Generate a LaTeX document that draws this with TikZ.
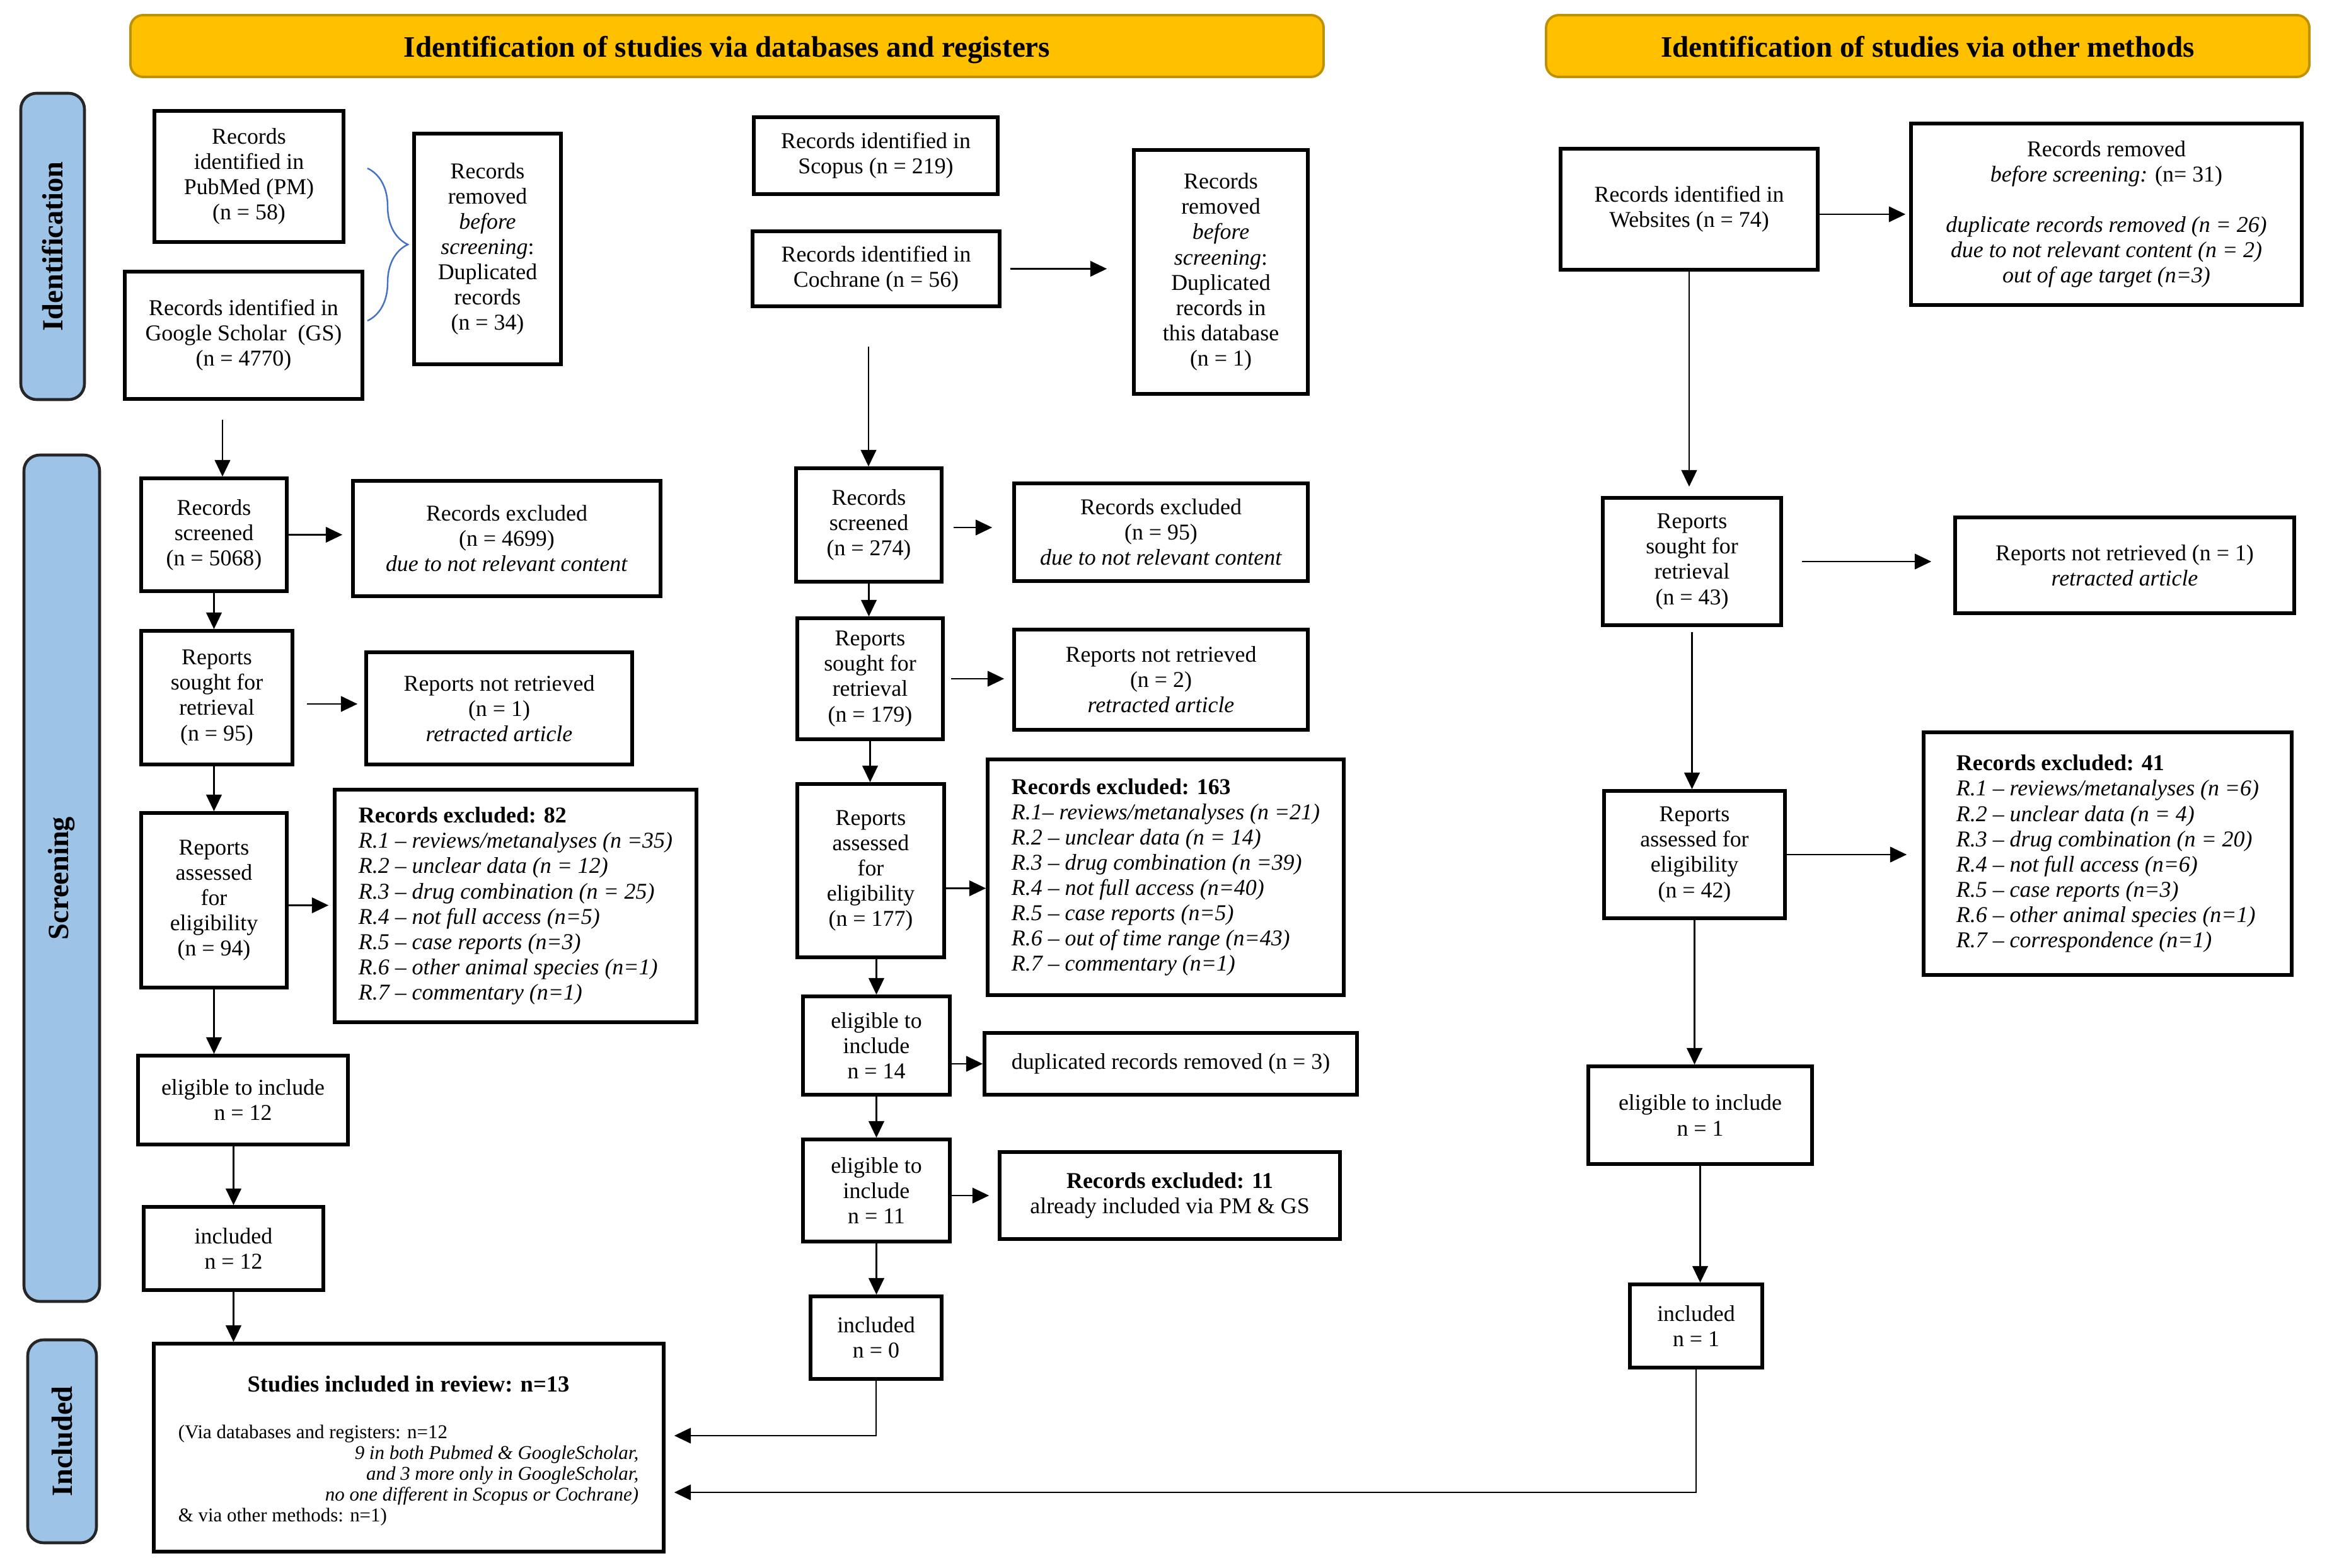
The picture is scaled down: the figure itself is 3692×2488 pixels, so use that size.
\documentclass[tikz,border=0pt]{standalone}
\usepackage{fontspec}
\setmainfont{Liberation Serif}
\usetikzlibrary{arrows.meta, calc, decorations.pathreplacing}
\definecolor{hdrfill}{HTML}{FFC000}
\definecolor{hdrline}{HTML}{BF9000}
\definecolor{phfill}{HTML}{9DC3E6}
\definecolor{bracecol}{HTML}{4472C4}
\newcommand{\bodysize}{\fontsize{10.2}{11.4}\selectfont}
\newcommand{\smallsize}{\fontsize{8.8}{9.4}\selectfont}
\begin{document}
\begin{tikzpicture}[x=0.01cm, y=-0.01cm,
  rect/.style n args={4}{at={({(#1+#3)/2},{(#2+#4)/2})}, minimum width={(#3-#1)*0.01cm}, minimum height={(#4-#2)*0.01cm}},
  box/.style={draw=black, line width=1.6pt, inner sep=0pt, align=center, font=\bodysize},
  lbox/.style={draw=black, line width=1.6pt, inner sep=0pt, align=left, font=\bodysize},
  hdr/.style={draw=hdrline, fill=hdrfill, line width=1.1pt, rounded corners=0.2cm, inner sep=0pt, text height=10pt, text depth=0pt, font=\fontsize{13.4}{16}\selectfont\bfseries},
  phase/.style={draw=black!85, fill=phfill, line width=1.3pt, rounded corners=0.25cm, inner sep=0pt},
  phlabel/.style={rotate=90, font=\fontsize{13.2}{15}\selectfont\bfseries, inner sep=0pt},
  arr/.style={line width=0.8pt, -{Triangle[length=7.5pt,width=7pt]}},
]
\fill[white] (0,0) rectangle (3692,2488);
\useasboundingbox (0,0) rectangle (3692,2488);

% headers
\node[hdr, rect={207}{24}{2100}{122}] (hdrA) {Identification of studies via databases and registers};
\node[hdr, rect={2453}{24}{3664}{122}] (hdrB) {Identification of studies via other methods};

% phase labels
\node[phase, rect={33}{148}{134}{634}] (phId) {};
\node[phlabel] (phIdT) at (phId.center) {Identification};
\node[phase, rect={38}{722}{158}{2065}] (phSc) {};
\node[phlabel] (phScT) at (phSc.center) {Screening};
\node[phase, rect={44}{2126}{153}{2448}] (phIn) {};
\node[phlabel] (phInT) at (phIn.center) {Included};

% ---------- column 1 ----------
\node[box, rect={245}{176}{545}{384}] (pm) {Records\\identified in\\PubMed (PM)\\(n = 58)};
\node[box, rect={198}{431}{575}{633}] (gs) {Records identified in\\Google Scholar~~(GS)\\(n = 4770)};
\node[box, rect={657}{212}{890}{578}] (rem1) {Records\\removed\\\textit{before}\\\textit{screening}:\\Duplicated\\records\\(n = 34)};
\draw[bracecol, line width=0.7pt, decorate, decoration={brace, amplitude=0.64cm}] (583,267) -- (583,509);

\node[box, rect={224}{759}{455}{938}] (scr1) {Records\\screened\\(n = 5068)};
\node[box, rect={560}{763}{1048}{946}] (exc1) {Records excluded\\(n = 4699)\\\textit{due to not relevant content}};
\node[box, rect={224}{1001}{464}{1213}] (sgt1) {Reports\\sought for\\retrieval\\(n = 95)};
\node[box, rect={581}{1035}{1003}{1213}] (nrt1) {Reports not retrieved\\(n = 1)\\\textit{retracted article}};
\node[box, rect={224}{1290}{455}{1567}] (asd1) {Reports\\assessed\\for\\eligibility\\(n = 94)};
\node[lbox, rect={531}{1253}{1105}{1622}] (ex82) {\textbf{Records excluded: 82}\\
\textit{R.1 -- reviews/metanalyses (n =35)}\\
\textit{R.2 -- unclear data (n = 12)}\\
\textit{R.3 -- drug combination (n = 25)}\\
\textit{R.4 -- not full access (n=5)}\\
\textit{R.5 -- case reports (n=3)}\\
\textit{R.6 -- other animal species (n=1)}\\
\textit{R.7 -- commentary (n=1)}};
\node[box, rect={219}{1675}{552}{1816}] (el12) {eligible to include\\n = 12};
\node[box, rect={228}{1915}{513}{2047}] (in12) {included\\n = 12};
\node[box, rect={244}{2132}{1053}{2462}] (stud) {};
\node[font=\fontsize{10.4}{12}\selectfont\bfseries, inner sep=0pt] (studT) at (648,2196) {Studies included in review: n=13};
\node[font=\smallsize, align=center, inner sep=0pt] (studB) at (648,2341) {%
\makebox[7.3cm][l]{(Via databases and registers: n=12}\\
\makebox[7.3cm][r]{\itshape 9 in both Pubmed \& GoogleScholar,}\\
\makebox[7.3cm][r]{\itshape and 3 more only in GoogleScholar,}\\
\makebox[7.3cm][r]{\itshape no one different in Scopus or Cochrane)}\\
\makebox[7.3cm][l]{\& via other methods: n=1)}};

% ---------- column 2 ----------
\node[box, rect={1196}{186}{1583}{308}] (scop) {Records identified in\\Scopus (n = 219)};
\node[box, rect={1194}{367}{1586}{486}] (coch) {Records identified in\\Cochrane (n = 56)};
\node[box, rect={1799}{238}{2075}{625}] (rem2) {Records\\removed\\\textit{before}\\\textit{screening}:\\Duplicated\\records in\\this database\\(n = 1)};
\node[box, rect={1263}{743}{1494}{923}] (scr2) {Records\\screened\\(n = 274)};
\node[box, rect={1609}{767}{2075}{922}] (exc2) {Records excluded\\(n = 95)\\\textit{due to not relevant content}};
\node[box, rect={1265}{981}{1496}{1173}] (sgt2) {Reports\\sought for\\retrieval\\(n = 179)};
\node[box, rect={1609}{999}{2075}{1158}] (nrt2) {Reports not retrieved\\(n = 2)\\\textit{retracted article}};
\node[box, rect={1265}{1244}{1498}{1519}] (asd2) {Reports\\assessed\\for\\eligibility\\(n = 177)};
\node[lbox, rect={1567}{1205}{2132}{1579}] (ex163) {\textbf{Records excluded: 163}\\
\textit{R.1-- reviews/metanalyses (n =21)}\\
\textit{R.2 -- unclear data (n = 14)}\\
\textit{R.3 -- drug combination (n =39)}\\
\textit{R.4 -- not full access (n=40)}\\
\textit{R.5 -- case reports (n=5)}\\
\textit{R.6 -- out of time range (n=43)}\\
\textit{R.7 -- commentary (n=1)}};
\node[box, rect={1274}{1581}{1507}{1737}] (el14) {eligible to\\include\\n = 14};
\node[box, rect={1562}{1639}{2153}{1737}] (dup) {duplicated records removed (n = 3)};
\node[box, rect={1274}{1808}{1507}{1970}] (el11) {eligible to\\include\\n = 11};
\node[box, rect={1586}{1828}{2126}{1966}] (ex11) {\textbf{Records excluded: 11}\\already included via PM \& GS};
\node[box, rect={1286}{2057}{1494}{2188}] (in0) {included\\n = 0};

% ---------- column 3 ----------
\node[box, rect={2476}{236}{2884}{428}] (web) {Records identified in\\Websites (n = 74)};
\node[box, rect={3032}{196}{3652}{484}] (rem3) {Records removed\\\textit{before screening:} (n= 31)\\[11.4pt]
\textit{duplicate records removed (n = 26)}\\
\textit{due to not relevant content (n = 2)}\\
\textit{out of age target (n=3)}};
\node[box, rect={2543}{790}{2826}{992}] (sgt3) {Reports\\sought for\\retrieval\\(n = 43)};
\node[box, rect={3102}{821}{3640}{973}] (nrt3) {Reports not retrieved (n = 1)\\\textit{retracted article}};
\node[box, rect={2545}{1255}{2832}{1457}] (asd3) {Reports\\assessed for\\eligibility\\(n = 42)};
\node[lbox, rect={3052}{1162}{3636}{1547}] (ex41) {\textbf{Records excluded: 41}\\
\textit{R.1 -- reviews/metanalyses (n =6)}\\
\textit{R.2 -- unclear data (n = 4)}\\
\textit{R.3 -- drug combination (n = 20)}\\
\textit{R.4 -- not full access (n=6)}\\
\textit{R.5 -- case reports (n=3)}\\
\textit{R.6 -- other animal species (n=1)}\\
\textit{R.7 -- correspondence (n=1)}};
\node[box, rect={2520}{1692}{2875}{1847}] (el1) {eligible to include\\n = 1};
\node[box, rect={2586}{2038}{2796}{2170}] (in1) {included\\n = 1};

% ---------- connectors column 1 ----------
\coordinate (c1top) at (353,666);
\draw[arr] (c1top) -- (c1top |- scr1.north);
\draw[arr, shorten >=0.14cm] (scr1.east) -- (scr1.east -| exc1.west);
\draw[arr] (scr1.south) -- (scr1.south |- sgt1.north);
\draw[arr, shorten <=0.2cm, shorten >=0.11cm] ($(sgt1.east)+(0,10)$) -- ($(sgt1.east -| nrt1.west)+(0,10)$);
\draw[arr] (asd1.north |- sgt1.south) -- (asd1.north);
\draw[arr, shorten >=0.07cm] ($(asd1.east)+(0,8)$) -- ($(asd1.east -| ex82.west)+(0,8)$);
\draw[arr] (asd1.south) -- (asd1.south |- el12.north);
\draw[arr] (in12.north |- el12.south) -- (in12.north);
\draw[arr] (in12.south) -- (in12.south |- stud.north);

% ---------- connectors column 2 ----------
\draw[arr, shorten <=0.14cm, shorten >=0.4cm] (coch.east) -- (coch.east -| rem2.west);
\coordinate (c2top) at (1378,550);
\draw[arr] (c2top) -- (c2top |- scr2.north);
\draw[arr, shorten <=0.16cm, shorten >=0.32cm] ($(scr2.east)+(0,4)$) -- ($(scr2.east -| exc2.west)+(0,4)$);
\draw[arr] (scr2.south) -- (scr2.south |- sgt2.north);
\draw[arr, shorten <=0.1cm, shorten >=0.13cm] (sgt2.east) -- (sgt2.east -| nrt2.west);
\draw[arr] (sgt2.south) -- (sgt2.south |- asd2.north);
\draw[arr] ($(asd2.east)+(0,28)$) -- ($(asd2.east -| ex163.west)+(0,28)$);
\draw[arr] (el14.south |- asd2.south) -- (el14.north);
\draw[arr] (el14.east |- dup.west) -- (dup.west);
\draw[arr] (el14.south) -- (el14.south |- el11.north);
\draw[arr, shorten >=0.14cm] (el11.east |- ex11.west) -- (ex11.west);
\draw[arr] (el11.south) -- (el11.south |- in0.north);
\draw[arr, shorten >=0.14cm] (in0.south) |- ($(stud.east)+(0,-19)$);

% ---------- connectors column 3 ----------
\draw[arr, shorten >=0.06cm] (web.east |- rem3.west) -- (rem3.west);
\draw[arr, shorten >=0.15cm] (web.south) -- (web.south |- sgt3.north);
\draw[arr, shorten <=0.3cm, shorten >=0.35cm] (sgt3.east) -- (sgt3.east -| nrt3.west);
\draw[arr, shorten <=0.08cm] (sgt3.south) -- (sgt3.south |- asd3.north);
\draw[arr, shorten >=0.24cm] (asd3.east) -- (asd3.east -| ex41.west);
\draw[arr] (asd3.south) -- (asd3.south |- el1.north);
\draw[arr] (el1.south) -- (el1.south |- in1.north);
\draw[arr, shorten >=0.14cm] (in1.south) |- ($(stud.east)+(0,71)$);
\end{tikzpicture}
\end{document}
